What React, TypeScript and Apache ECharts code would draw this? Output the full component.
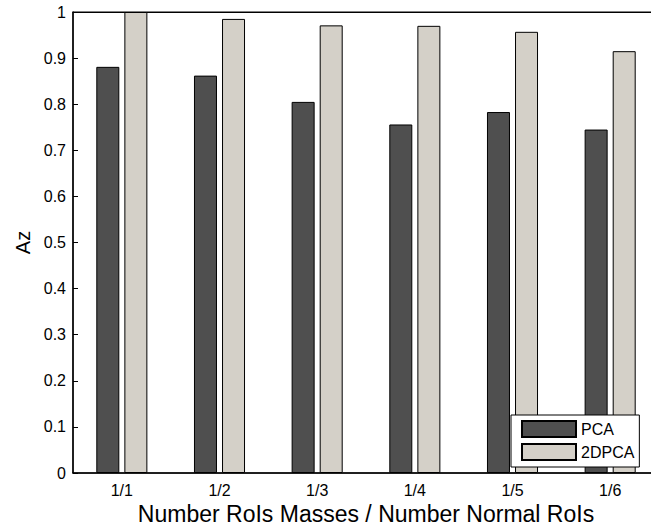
import React, { useEffect, useRef } from "react";
import * as echarts from "echarts";

const categories = ["1/1", "1/2", "1/3", "1/4", "1/5", "1/6"];
const pcaValues = [0.881, 0.862, 0.805, 0.756, 0.783, 0.745];
const dpcaValues = [1.0, 0.985, 0.971, 0.97, 0.957, 0.915];
const seriesNames = ["PCA", "2DPCA"];
const xTitle = "Number RoIs Masses / Number Normal RoIs";
const yTitle = "Az";

const FONT = "'Liberation Sans', Arial, Helvetica, sans-serif";

export default function App() {
  const ref = useRef<HTMLDivElement>(null);
  useEffect(() => {
    if (!ref.current) return;
    const chart = echarts.init(ref.current, null, { renderer: "svg" });
    chart.setOption({
      animation: false,
      backgroundColor: "#ffffff",
      textStyle: { fontFamily: FONT },
      grid: {
        left: 73,
        top: 12,
        right: -8,
        bottom: 53,
        containLabel: false,
        outerBoundsMode: "none",
        show: true,
        borderColor: "#000",
        borderWidth: 1,
        backgroundColor: "#fff",
      },
      legend: {
        orient: "vertical",
        left: 511,
        top: 415,
        padding: [5, 5, 6, 10],
        itemGap: 5,
        itemWidth: 54,
        itemHeight: 16,
        icon: "rect",
        borderColor: "#000",
        borderWidth: 1,
        backgroundColor: "#fff",
        textStyle: { fontSize: 16, color: "#000", fontFamily: FONT },
        data: seriesNames,
      },
      xAxis: [
        {
          type: "category",
          data: categories,
          position: "bottom",
          axisLine: { lineStyle: { color: "#000", width: 1.5 } },
          axisTick: { inside: true, length: 5, alignWithLabel: true, lineStyle: { color: "#000" } },
          axisLabel: { fontSize: 16, color: "#000", margin: 9, fontFamily: FONT },
          name: xTitle,
          nameLocation: "middle",
          nameGap: 21,
          nameTextStyle: { fontSize: 23, color: "#000", fontFamily: FONT, lineHeight: 23 },
          splitLine: { show: false },
        },
        {
          type: "category",
          data: categories,
          position: "top",
          axisLine: { lineStyle: { color: "#000", width: 1 } },
          axisTick: { inside: true, length: 5, alignWithLabel: true, lineStyle: { color: "#000" } },
          axisLabel: { show: false },
          splitLine: { show: false },
        },
      ],
      yAxis: {
        type: "value",
        min: 0,
        max: 1,
        interval: 0.1,
        axisLine: { show: true, lineStyle: { color: "#000", width: 1.5 } },
        axisTick: { show: true, inside: true, length: 5, lineStyle: { color: "#000" } },
        axisLabel: { fontSize: 16, color: "#000", margin: 7, fontFamily: FONT },
        splitLine: { show: false },
        name: yTitle,
        nameLocation: "middle",
        nameGap: 37,
        nameTextStyle: { fontSize: 20, color: "#000", fontFamily: FONT },
      },
      series: [
        {
          name: seriesNames[0],
          type: "bar",
          data: pcaValues,
          barWidth: 23,
          barGap: "22%",
          itemStyle: { color: "#4f4f4f", borderColor: "#000", borderWidth: 1 },
        },
        {
          name: seriesNames[1],
          type: "bar",
          data: dpcaValues,
          barWidth: 23,
          barGap: "22%",
          itemStyle: { color: "#d4d0c8", borderColor: "#000", borderWidth: 1 },
        },
      ],
    });
    return () => chart.dispose();
  }, []);
  return (
    <div
      ref={ref}
      style={{
        position: "fixed",
        left: 0,
        top: 0,
        width: 651,
        height: 526,
        overflow: "hidden",
        background: "#fff",
      }}
    />
  );
}
